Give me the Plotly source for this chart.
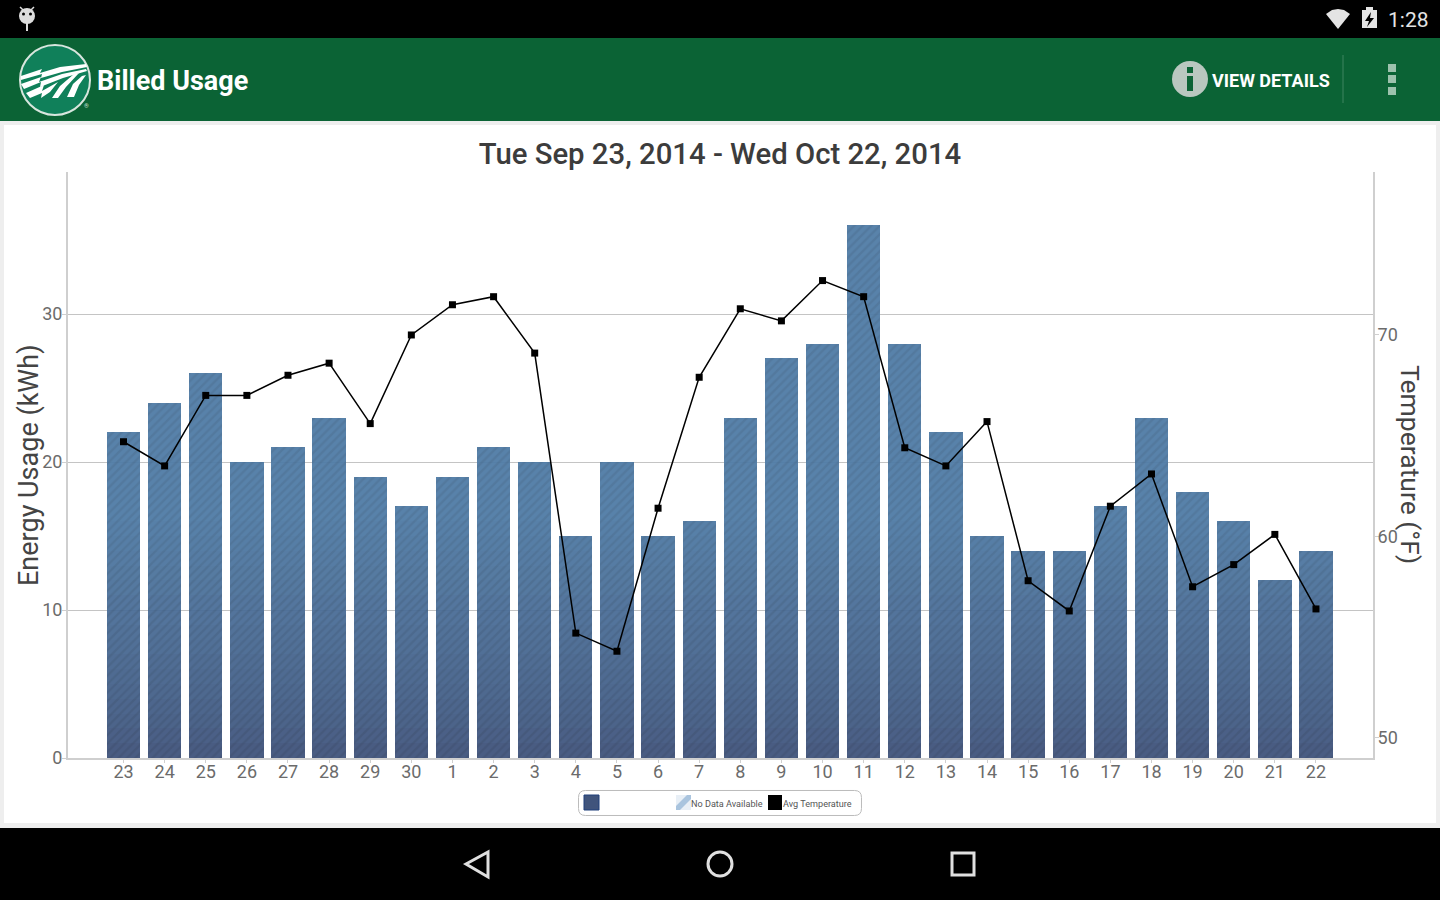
import plotly.graph_objects as go

days = ['23','24','25','26','27','28','29','30','1','2','3','4','5','6','7','8','9','10','11','12','13','14','15','16','17','18','19','20','21','22']
kwh = [22,24,26,20,21,23,19,17,19,21,20,15,20,15,16,23,27,28,36,28,22,15,14,14,17,23,18,16,12,14]
temp_f = [64.7,63.5,67.0,67.0,68.0,68.6,65.6,70.0,71.5,71.9,69.1,55.2,54.3,61.4,67.9,71.3,70.7,72.7,71.9,64.4,63.5,65.7,57.8,56.3,61.5,63.1,57.5,58.6,60.1,56.4]
kwh_ticks = [0,10,20,30]
temp_ticks = [50,60,70]

W = 1440
H = 900
TICK = '#6b6b6b'
AXIS = '#cfcfcf'
GREEN = '#0b6335'

def px(x):
    return x / W

def py(y):
    return 1 - y / H

def rect(x0, y0, x1, y1, fill, line=None, lw=0):
    return dict(type='rect', xref='paper', yref='paper', x0=px(x0), x1=px(x1), y0=py(y0), y1=py(y1),
                fillcolor=fill, line=dict(color=line, width=lw) if line else dict(width=0), layer='below')

def circle(cx, cy, r, fill, line=None, lw=0):
    s = rect(cx - r, cy - r, cx + r, cy + r, fill, line, lw)
    s['type'] = 'circle'
    return s

def poly(pts, fill, line=None, lw=0, close=True):
    d = 'M ' + ' L '.join(f'{px(x):.5f} {py(y):.5f}' for x, y in pts)
    if close:
        d += ' Z'
    return dict(type='path', xref='paper', yref='paper', path=d, fillcolor=fill if close else 'rgba(0,0,0,0)',
                line=dict(color=line, width=lw) if line else dict(width=0), layer='below')

def round_box(x0, y0, x1, y1, r, fill, line, lw):
    def p(x, y):
        return f'{px(x):.5f} {py(y):.5f}'
    d = (f'M {p(x0 + r, y0)} L {p(x1 - r, y0)} Q {p(x1, y0)} {p(x1, y0 + r)} L {p(x1, y1 - r)} '
         f'Q {p(x1, y1)} {p(x1 - r, y1)} L {p(x0 + r, y1)} Q {p(x0, y1)} {p(x0, y1 - r)} '
         f'L {p(x0, y0 + r)} Q {p(x0, y0)} {p(x0 + r, y0)} Z')
    return dict(type='path', xref='paper', yref='paper', path=d, fillcolor=fill,
                line=dict(color=line, width=lw), layer='below')

def label(x, y, text, size, color, anchor='left', font='Roboto', weight=None, angle=0):
    f = dict(family=font, size=size, color=color)
    if weight:
        f['weight'] = weight
    return dict(xref='paper', yref='paper', x=px(x), y=py(y), text=text, showarrow=False, textangle=angle,
                xanchor=anchor, yanchor='middle', font=f, borderpad=0)

def mix(a, b, t):
    return tuple(a[i] + (b[i] - a[i]) * t for i in range(3))

def css(c, k=1.0):
    return 'rgb(%d,%d,%d)' % tuple(round(v * k) for v in c)

BAR_LOW = (64, 84, 124)
BAR_TOP = (80, 124, 166)

fig = go.Figure()

# bars darken toward the axis, so stack thin bands cut from kwh
edges = list(range(0, 17)) + [40]
for lo, hi in zip(edges[:-1], edges[1:]):
    seg = [max(0, min(v, hi) - lo) for v in kwh]
    c = mix(BAR_LOW, BAR_TOP, min(lo / 16, 1) ** 0.8)
    fig.add_trace(go.Bar(x=days, y=seg, yaxis='y', showlegend=False, opacity=0.95,
                         marker=dict(color=css(c), line=dict(width=0),
                                     pattern=dict(shape='/', size=6, solidity=0.4, fgcolor=css(c, 0.84), bgcolor=css(c)))))

fig.add_trace(go.Scatter(x=days, y=temp_f, yaxis='y2', mode='lines+markers', name='Avg Temperature', showlegend=False,
                         line=dict(color='black', width=1.5), marker=dict(symbol='square', size=7, color='black')))

shapes = [
    rect(0, 0, W, 38, 'black'),
    rect(0, 828, W, H, 'black'),
    rect(4, 125, 1436, 823, 'white'),
    rect(0, 38, W, 121, GREEN),
    # status bar
    circle(27, 16, 8, '#dddddd'),
    poly([(27, 23), (27, 31)], None, '#dddddd', 2, close=False),
    poly([(20, 7), (24, 11)], None, '#dddddd', 1.5, close=False),
    poly([(34, 7), (30, 11)], None, '#dddddd', 1.5, close=False),
    circle(23.5, 14, 1.5, 'black'),
    circle(30.5, 14, 1.5, 'black'),
    poly([(1326, 14), (1332, 10), (1338, 9), (1344, 10), (1350, 14), (1338, 29)], '#e4e4e4'),
    rect(1362, 10, 1377, 28, '#e4e4e4'),
    rect(1366, 7, 1373, 10, '#e4e4e4'),
    poly([(1371, 12), (1365, 21), (1369, 21), (1367, 27), (1374, 18), (1370, 18)], 'black'),
    # logo
    circle(55, 80, 35, '#10805a', '#d8e6de', 2),
    poly([(21, 76), (42, 69), (40, 73), (60, 67), (86, 64), (87, 67), (62, 72), (41, 78), (42, 74), (21, 80)], 'white'),
    poly([(21, 84), (41, 77), (39, 82), (62, 74), (86, 69), (87, 71), (63, 78), (40, 87), (41, 82), (24, 89)], 'white'),
    poly([(26, 93), (44, 85), (42, 91), (58, 82), (50, 92), (41, 98), (42, 93), (30, 98)], 'white'),
    poly([(52, 98), (60, 86), (74, 74), (79, 73), (66, 87), (58, 98)], 'white'),
    poly([(67, 97), (73, 84), (82, 76), (86, 75), (79, 85), (74, 97)], 'white'),
    # action bar right side
    circle(1190, 79, 18, '#b9c7bf'),
    rect(1187, 67, 1193, 73, GREEN),
    rect(1187, 76, 1193, 91, GREEN),
    poly([(1343, 55), (1343, 103)], None, '#3f8560', 1, close=False),
    rect(1388, 64, 1396, 72, '#9dc2ad'),
    rect(1388, 75, 1396, 83, '#9dc2ad'),
    rect(1388, 87, 1396, 95, '#9dc2ad'),
    # nav bar
    poly([(466, 864), (488, 852), (488, 877)], 'rgba(0,0,0,0)', '#e0e0e0', 3),
    circle(720, 864, 12, 'rgba(0,0,0,0)', '#e0e0e0', 3),
    rect(952, 853, 974, 875, 'rgba(0,0,0,0)', '#e0e0e0', 3),
    # legend box
    round_box(578.5, 790.5, 861.5, 815.5, 7, 'white', '#bcbcbc', 1),
    rect(584, 795, 599, 810, css(BAR_LOW), '#1f3f7a', 1),
    rect(676, 795, 691, 810, '#e8eff6'),
    poly([(676, 810), (680, 810), (691, 799), (691, 795), (687, 795), (676, 806)], '#a9c4de'),
    rect(768, 795, 782, 810, 'black'),
]

annotations = [
    label(1387, 20, '1:28', 21, '#e4e4e4'),
    label(96, 81, 'Billed Usage', 27, 'white', weight=700),
    label(1211, 80, 'VIEW DETAILS', 18, 'white', weight=700),
    label(83, 105, '®', 6, '#cfe0d6'),
    label(690, 803.5, 'No Data Available', 9.1, '#555555'),
    label(782, 803.5, 'Avg Temperature', 9.1, '#555555'),
    label(29, 465, 'Energy Usage (kWh)', 27, '#444444', anchor='center', angle=-90),
    label(1411, 464, 'Temperature (°F)', 26.5, '#444444', anchor='center', angle=90),
]

fig.update_layout(
    width=W, height=H,
    margin=dict(l=0, r=0, t=0, b=0, autoexpand=False),
    paper_bgcolor='#eeeeee',
    plot_bgcolor='rgba(0,0,0,0)',
    barmode='stack',
    bargap=0.19,
    showlegend=False,
    font=dict(family='Roboto', color=TICK),
    title=dict(text='Tue Sep 23, 2014 - Wed Oct 22, 2014', x=0.5, xanchor='center', y=py(154), yanchor='middle',
               font=dict(family='Roboto', size=29.3, weight=500, color='#3c3c3c')),
    shapes=shapes,
    annotations=annotations,
)
fig.update_layout(
    xaxis=dict(domain=[px(68), px(1373)], type='category', categoryorder='array', categoryarray=days,
               range=[-1.35, 30.387], tickmode='array', tickvals=days, ticktext=days, automargin=False,
               showgrid=False, zeroline=False, showline=True, linecolor=AXIS, linewidth=2,
               ticks='outside', ticklen=3, tickcolor=AXIS, ticklabelstandoff=-7, tickfont=dict(size=18, color=TICK)),
    yaxis=dict(domain=[py(758), py(172)], range=[0, 39.6], tickmode='array', tickvals=kwh_ticks, automargin=False,
               showgrid=True, gridcolor='#c4c4c4', gridwidth=1, zeroline=False,
               showline=True, linecolor=AXIS, linewidth=2, ticks='outside', ticklen=4, tickcolor=AXIS,
               ticklabelstandoff=-4, tickfont=dict(size=18, color=TICK)),
    yaxis2=dict(domain=[py(758), py(172)], range=[49.0, 78.09], overlaying='y', side='right', anchor='x', automargin=False,
                tickmode='array', tickvals=temp_ticks, showgrid=False, zeroline=False,
                showline=True, linecolor=AXIS, linewidth=2, ticks='outside', ticklen=4, tickcolor=AXIS,
                ticklabelstandoff=-5, tickfont=dict(size=18, color=TICK)),
)

fig.write_html('out.html', config={'displayModeBar': False},
               post_script="document.body.style.margin='0';document.body.style.overflow='hidden';")
